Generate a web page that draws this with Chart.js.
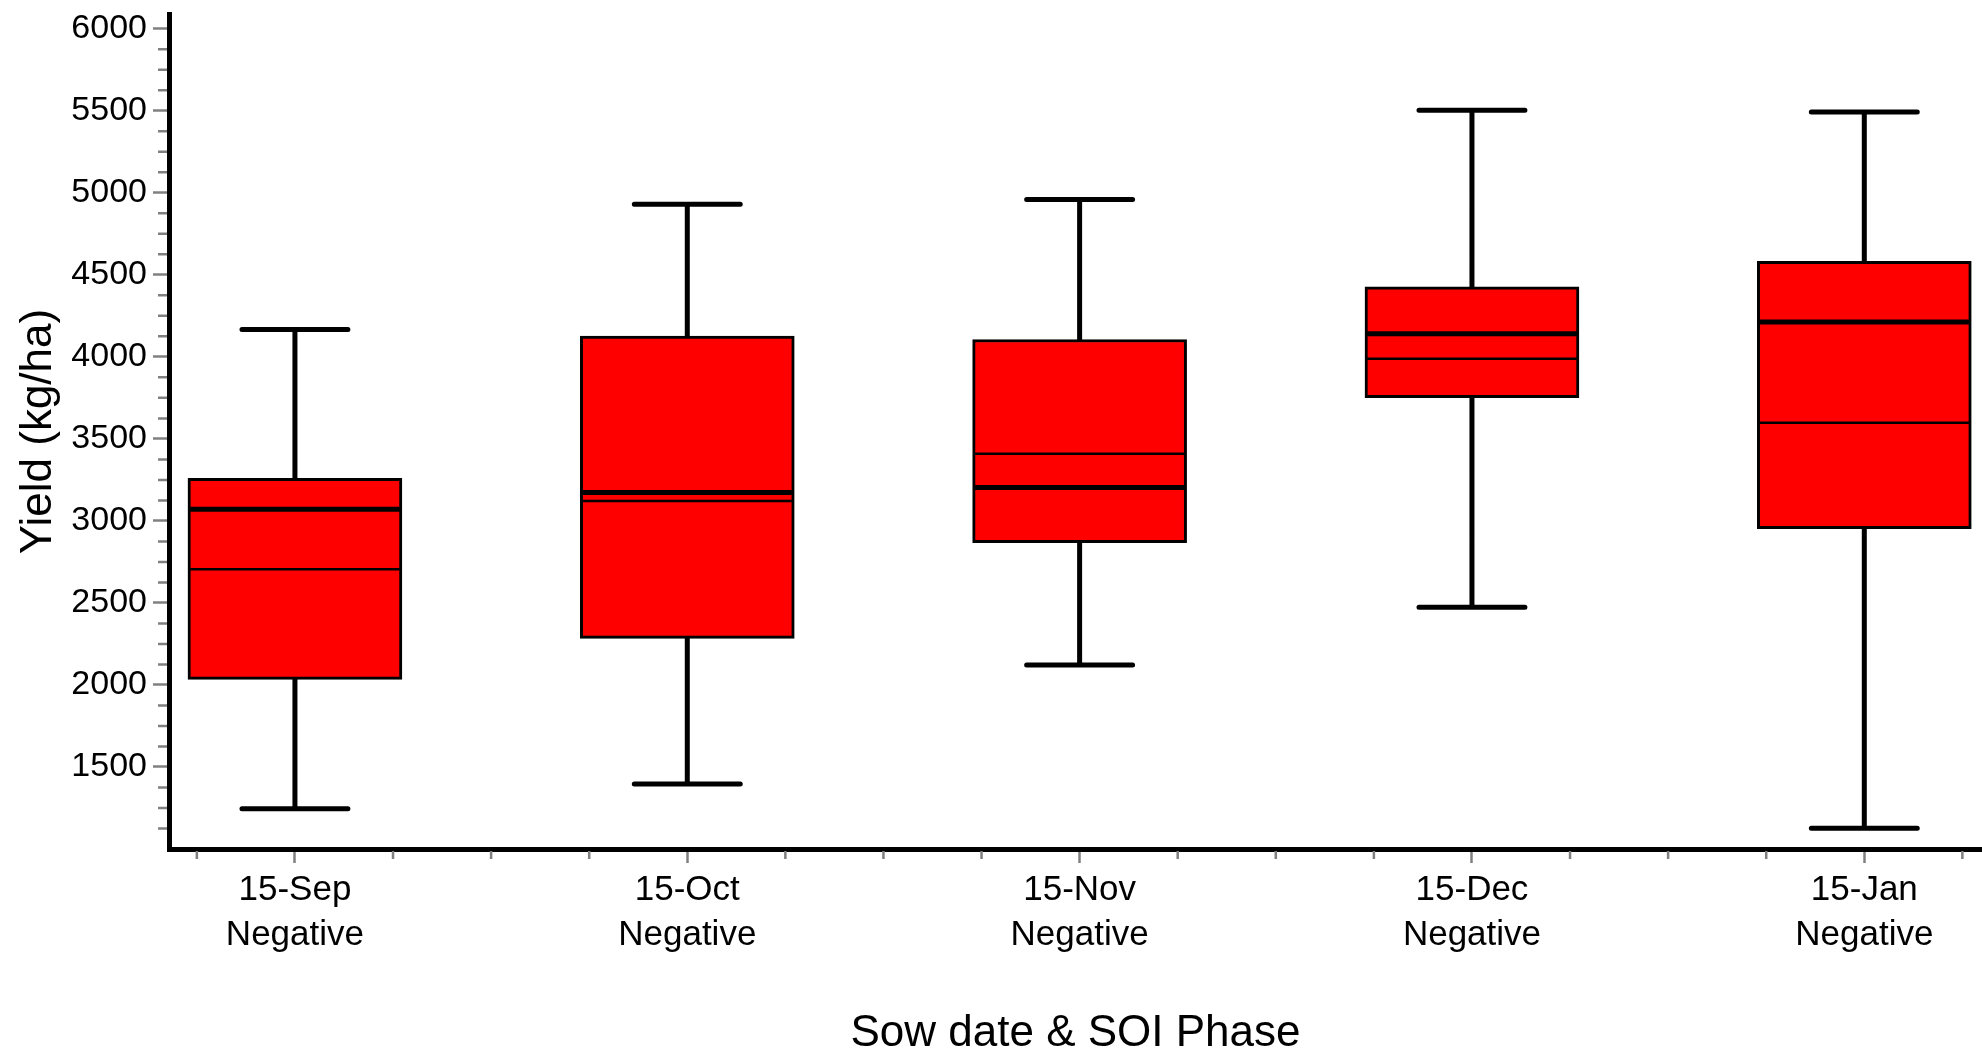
<!DOCTYPE html>
<html>
<head>
<meta charset="utf-8">
<script src="https://cdn.jsdelivr.net/npm/chart.js@4.4.1/dist/chart.umd.min.js"></script>
<style>
html,body{margin:0;padding:0;background:#ffffff;}
canvas{display:block;}
</style>
</head>
<body>
<canvas id="c" width="1982" height="1050"></canvas>
<script>
// ---- data ----
const categories = [["15-Sep","Negative"],["15-Oct","Negative"],["15-Nov","Negative"],["15-Dec","Negative"],["15-Jan","Negative"]];
const positions = [1, 2, 3, 4, 5];
const whiskerLow  = [1245, 1396, 2121, 2474, 1127];
const q1          = [2034, 2284, 2868, 3751, 2953];
const median      = [3071, 3173, 3203, 4141, 4212];
const mean        = [2706, 3122, 3410, 3989, 3599];
const q3          = [3260, 4126, 4106, 4427, 4583];
const whiskerHigh = [4167, 4930, 4959, 5503, 5492];
const yTicks = [1500, 2000, 2500, 3000, 3500, 4000, 4500, 5000, 5500, 6000];
const yTitle = "Yield (kg/ha)";
const xTitle = "Sow date & SOI Phase";

// ---- style constants ----
const capHalf = 0.135;
const boxHalf = 0.268;
const FONT = "'Liberation Sans', Arial, sans-serif";

function segs(list) {
  const out = [];
  list.forEach(s => { out.push(s[0], s[1], {x: s[0].x, y: null}); });
  return out;
}
const whiskerData = segs(positions.flatMap((p, i) => [
  [{x: p, y: q3[i]}, {x: p, y: whiskerHigh[i]}],
  [{x: p - capHalf, y: whiskerHigh[i]}, {x: p + capHalf, y: whiskerHigh[i]}],
  [{x: p, y: q1[i]}, {x: p, y: whiskerLow[i]}],
  [{x: p - capHalf, y: whiskerLow[i]}, {x: p + capHalf, y: whiskerLow[i]}]
]));
const medianData = segs(positions.map((p, i) => [{x: p - boxHalf, y: median[i]}, {x: p + boxHalf, y: median[i]}]));
const meanData = segs(positions.map((p, i) => [{x: p - boxHalf, y: mean[i]}, {x: p + boxHalf, y: mean[i]}]));
const boxData = positions.map((p, i) => ({x: p, y: [q1[i], q3[i]]}));

const minorTicks = {
  id: 'minorTicks',
  afterDraw(chart) {
    const {ctx, chartArea} = chart;
    const x = chart.scales.x, y = chart.scales.y;
    ctx.save();
    ctx.strokeStyle = '#808080';
    ctx.lineWidth = 2.5;
    ctx.beginPath();
    for (let v = 1000; v <= 6000; v += 125) {
      if (v % 500 === 0) continue;
      const py = y.getPixelForValue(v);
      ctx.moveTo(chartArea.left - 11, py);
      ctx.lineTo(chartArea.left - 2, py);
    }
    for (let k = 3; k <= 21; k++) {
      const v = k * 0.25;
      if (k % 4 === 0) continue;
      const px = x.getPixelForValue(v);
      ctx.moveTo(px, chartArea.bottom + 2);
      ctx.lineTo(px, chartArea.bottom + 10);
    }
    ctx.stroke();
    ctx.restore();
  }
};

new Chart(document.getElementById('c'), {
  type: 'bar',
  data: {
    datasets: [
      {
        type: 'line', data: whiskerData, borderColor: '#000000', borderWidth: 5,
        borderCapStyle: 'round', borderJoinStyle: 'round', pointRadius: 0, spanGaps: false, order: 3, clip: false
      },
      {
        type: 'bar', data: boxData, backgroundColor: '#ff0000', borderColor: '#000000',
        borderWidth: 3, borderSkipped: false, barThickness: 214, order: 2
      },
      {
        type: 'line', data: medianData, borderColor: '#000000', borderWidth: 5,
        borderCapStyle: 'butt', pointRadius: 0, spanGaps: false, order: 1
      },
      {
        type: 'line', data: meanData, borderColor: '#000000', borderWidth: 2.5,
        borderCapStyle: 'butt', pointRadius: 0, spanGaps: false, order: 0
      }
    ]
  },
  options: {
    responsive: false,
    animation: false,
    devicePixelRatio: 1,
    layout: {padding: {top: 14, left: 0, right: 0, bottom: 0}},
    plugins: {legend: {display: false}, tooltip: {enabled: false}},
    scales: {
      x: {
        type: 'linear', min: 0.679, max: 5.30, offset: false,
        afterBuildTicks: s => { s.ticks = positions.map(v => ({value: v})); },
        afterFit: s => { s.height = 201; s.paddingLeft = 0; s.paddingRight = 0; },
        grid: {drawOnChartArea: false, offset: false, drawTicks: true, tickLength: 14, tickColor: '#808080', tickWidth: 2.5},
        border: {display: true, color: '#000000', width: 5},
        ticks: {
          autoSkip: false, maxRotation: 0, padding: 4, color: '#000000',
          font: {family: FONT, size: 35, lineHeight: 1.31},
          callback: (v) => categories[positions.indexOf(v)] || ''
        },
        title: {display: true, text: xTitle, color: '#000000', font: {family: FONT, size: 44, lineHeight: 0.7}, padding: {top: 0, bottom: 1}}
      },
      y: {
        type: 'linear', min: 1000, max: 6090, beginAtZero: false,
        afterBuildTicks: s => { s.ticks = yTicks.map(v => ({value: v})); },
        afterFit: s => { s.width = 169; s.paddingTop = 0; s.paddingBottom = 0; },
        grid: {drawOnChartArea: false, drawTicks: true, tickLength: 16, tickColor: '#808080', tickWidth: 2.5},
        border: {display: true, color: '#000000', width: 5},
        ticks: {autoSkip: false, padding: 6, color: '#000000', font: {family: FONT, size: 34},
          callback: (v) => String(v)},
        title: {display: true, text: yTitle, color: '#000000', font: {family: FONT, size: 44, lineHeight: 1.2}, padding: {top: 12, bottom: 0}}
      }
    }
  },
  plugins: [minorTicks]
});
</script>
</body>
</html>
